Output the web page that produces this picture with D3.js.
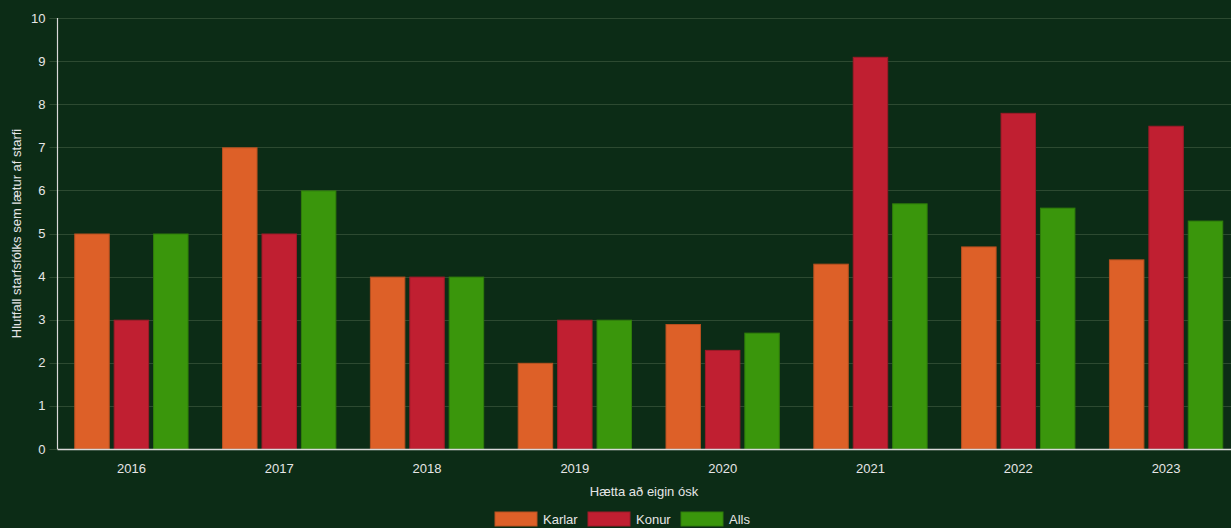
<!DOCTYPE html>
<html><head><meta charset="utf-8">
<script src="https://cdn.jsdelivr.net/npm/d3@7"></script>
<style>
html,body{margin:0;padding:0;background:#0c2c16;overflow:hidden;}
svg{display:block;}
text{font-family:"Liberation Sans",Arial,Helvetica,sans-serif;fill:#e6e6e6;}
</style></head><body>
<svg id="c" width="1231" height="528"></svg>
<script>
const categories = ["2016","2017","2018","2019","2020","2021","2022","2023"];
const seriesNames = ["Karlar","Konur","Alls"];
const karlar = [5, 7, 4, 2, 2.9, 4.3, 4.7, 4.4];
const konur  = [3, 5, 4, 3, 2.3, 9.1, 7.8, 7.5];
const alls   = [5, 6, 4, 3, 2.7, 5.7, 5.6, 5.3];
const yTicks = [0,1,2,3,4,5,6,7,8,9,10];
const colors = ["#dd6028","#c01f31","#3a960c"];
const borders = ["#b85020","#9e1a28","#2f7d0a"];
const xTitle = "Hætta að eigin ósk";
const yTitle = "Hlutfall starfsfólks sem lætur af starfi";

const series = [karlar, konur, alls];
const svg = d3.select("#c");
const m = {l:57.5, r:1240, t:18, b:449};
const x = d3.scaleBand().domain(categories).range([m.l, m.r]).paddingInner(0).paddingOuter(0);
const x1 = d3.scaleBand().domain(seriesNames).range([0, x.bandwidth()*0.8]).paddingInner(0.1).paddingOuter(0.05);
const y = d3.scaleLinear().domain([0,10]).range([m.b, m.t]);

// grid
svg.append("g").selectAll("line").data(yTicks).join("line")
  .attr("x1", m.l-8).attr("x2", m.r)
  .attr("y1", d=>Math.round(y(d))+0.5).attr("y2", d=>Math.round(y(d))+0.5)
  .attr("stroke", "#2d4a31").attr("stroke-width", 1);

// y labels
svg.append("g").selectAll("text").data(yTicks).join("text")
  .attr("x", m.l-12).attr("y", d=>y(d)).attr("dy","0.35em")
  .attr("text-anchor","end").attr("font-size",13).text(d=>d);

// bars
const off = x.bandwidth()*0.1;
const g = svg.append("g");
series.forEach((vals, si) => {
  g.append("g").selectAll("rect").data(vals).join("rect")
    .attr("x", (d,i)=> x(categories[i]) + off + x1(seriesNames[si]) + 0.5)
    .attr("y", d=> y(d)+0.5)
    .attr("width", x1.bandwidth()-1)
    .attr("height", d=> y(0)-y(d)-0.5)
    .attr("fill", colors[si])
    .attr("stroke", borders[si]).attr("stroke-width",1);
});

// axes lines
svg.append("line").attr("x1", m.l).attr("x2", m.l).attr("y1", m.t).attr("y2", m.b)
  .attr("stroke","#d9d9d9").attr("stroke-width",1.2);
svg.append("line").attr("x1", m.l).attr("x2", m.r).attr("y1", m.b+0.5).attr("y2", m.b+0.5)
  .attr("stroke","#d9d9d9").attr("stroke-width",1.5);

// x labels
svg.append("g").selectAll("text").data(categories).join("text")
  .attr("x", d=>x(d)+x.bandwidth()/2).attr("y", 473).attr("text-anchor","middle")
  .attr("font-size",13).text(d=>d);

// titles
svg.append("text").attr("x",644).attr("y",496).attr("text-anchor","middle")
  .attr("font-size",13).text(xTitle);
svg.append("text").attr("transform",`translate(21,${(m.t+m.b)/2}) rotate(-90)`)
  .attr("text-anchor","middle").attr("font-size",13).text(yTitle);

// legend
const leg = svg.append("g");
const legX = [495, 588, 681];
seriesNames.forEach((n,i)=>{
  leg.append("rect").attr("x",legX[i]).attr("y",512).attr("width",42).attr("height",14)
    .attr("fill",colors[i]).attr("stroke",borders[i]);
  leg.append("text").attr("x",legX[i]+48).attr("y",519).attr("dy","0.35em")
    .attr("font-size",13).text(n);
});
</script></body></html>
